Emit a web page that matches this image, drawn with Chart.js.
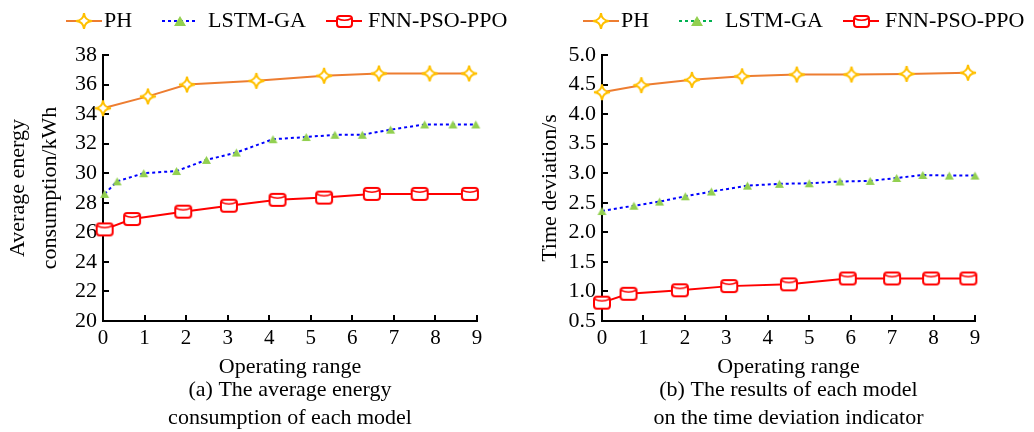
<!DOCTYPE html>
<html>
<head>
<meta charset="utf-8">
<script src="https://cdn.jsdelivr.net/npm/chart.js@4.4.1/dist/chart.umd.min.js"></script>
<style>
  html, body { margin: 0; padding: 0; background: #fff; }
  #wrap { position: relative; width: 1034px; height: 432px; overflow: hidden; }
  .box { position: absolute; top: 0; width: 517px; height: 432px; }
</style>
</head>
<body>
<div id="wrap">
  <div class="box" style="left:0"><canvas id="cA" width="517" height="432"></canvas></div>
  <div class="box" style="left:517px"><canvas id="cB" width="517" height="432"></canvas></div>
</div>
<script>
// ---------- data ----------
const seriesNames = ['PH', 'LSTM-GA', 'FNN-PSO-PPO'];

// (a) average energy consumption (kWh) vs operating range
const phX_a   = [0, 1.08, 2.02, 3.69, 5.32, 6.64, 7.86, 8.81];
const phY_a   = [34.4, 35.2, 36.0, 36.25, 36.6, 36.75, 36.75, 36.75];
const lstmX_a = [0.04, 0.34, 0.98, 1.77, 2.49, 3.21, 4.09, 4.89, 5.58, 6.24, 6.92, 7.74, 8.42, 8.97];
const lstmY_a = [28.6, 29.45, 30.0, 30.15, 30.9, 31.4, 32.3, 32.45, 32.6, 32.6, 32.95, 33.3, 33.3, 33.3];
const fnnX_a  = [0.04, 0.70, 1.93, 3.03, 4.20, 5.32, 6.47, 7.62, 8.83];
const fnnY_a  = [26.2, 26.9, 27.4, 27.8, 28.2, 28.35, 28.6, 28.6, 28.6];

// (b) time deviation (s) vs operating range
const phX_b   = [0, 0.95, 2.17, 3.38, 4.70, 6.02, 7.35, 8.83];
const phY_b   = [4.37, 4.49, 4.58, 4.64, 4.67, 4.67, 4.68, 4.70];
const lstmX_b = [0, 0.77, 1.39, 2.01, 2.64, 3.51, 4.28, 5.0, 5.74, 6.47, 7.11, 7.74, 8.38, 9.0];
const lstmY_b = [2.36, 2.45, 2.52, 2.61, 2.69, 2.79, 2.82, 2.83, 2.86, 2.87, 2.92, 2.97, 2.96, 2.96];
const fnnX_b  = [0, 0.64, 1.88, 3.07, 4.51, 5.93, 7.0, 7.94, 8.84];
const fnnY_b  = [0.81, 0.96, 1.02, 1.09, 1.12, 1.22, 1.22, 1.22, 1.22];

// axes / text
const xTitle = 'Operating range';
const yTitle_a = ['Average energy', 'consumption/kWh'];
const yTitle_b = 'Time deviation/s';
const caption_a = ['(a) The average energy', 'consumption of each model'];
const caption_b = ['(b) The results of each model', 'on the time deviation indicator'];
const xRange = [0, 9];
const yRange_a = [20, 38], yStep_a = 2;
const yRange_b = [0.5, 5.0], yStep_b = 0.5;

// ---------- styling helpers ----------
const FONT = '"Liberation Serif", "Times New Roman", serif';
Chart.defaults.font.family = FONT;
Chart.defaults.font.size = 22;
Chart.defaults.color = '#000';

function mkCanvas(w, h) { const c = document.createElement('canvas'); c.width = w; c.height = h; return c; }

function makeStar(r, stroke, lw) {
  const s = Math.ceil(2 * r + lw * 2 + 2);
  const c = mkCanvas(s, s), g = c.getContext('2d');
  const cx = s / 2, cy = s / 2, k = 0.08 * r;
  g.beginPath();
  g.moveTo(cx, cy - r);
  g.quadraticCurveTo(cx + k, cy - k, cx + r, cy);
  g.quadraticCurveTo(cx + k, cy + k, cx, cy + r);
  g.quadraticCurveTo(cx - k, cy + k, cx - r, cy);
  g.quadraticCurveTo(cx - k, cy - k, cx, cy - r);
  g.closePath();
  g.fillStyle = '#fff'; g.fill();
  g.lineWidth = lw; g.strokeStyle = stroke; g.lineJoin = 'miter'; g.stroke();
  return c;
}
function makeCyl(w, h, stroke, lw) {
  const c = mkCanvas(w + 4, h + 4), g = c.getContext('2d');
  const x = 2, y = 2, r = 3;
  g.beginPath();
  g.moveTo(x + r, y); g.lineTo(x + w - r, y); g.quadraticCurveTo(x + w, y, x + w, y + r);
  g.lineTo(x + w, y + h - r); g.quadraticCurveTo(x + w, y + h, x + w - r, y + h);
  g.lineTo(x + r, y + h); g.quadraticCurveTo(x, y + h, x, y + h - r);
  g.lineTo(x, y + r); g.quadraticCurveTo(x, y, x + r, y); g.closePath();
  g.fillStyle = '#fff'; g.fill();
  g.lineWidth = lw; g.strokeStyle = stroke; g.stroke();
  g.beginPath();
  g.moveTo(x + 0.5, y + 2.5); g.quadraticCurveTo(x + w / 2, y + 6, x + w - 0.5, y + 2.5);
  g.lineWidth = 1.5; g.stroke();
  return c;
}
function makeTri(w, h, fill) {
  const c = mkCanvas(w + 2, h + 2), g = c.getContext('2d');
  g.beginPath(); g.moveTo(1 + w / 2, 1); g.lineTo(1 + w, 1 + h); g.lineTo(1, 1 + h); g.closePath();
  g.fillStyle = fill; g.fill();
  return c;
}

const C_PH_LINE = '#ED7D31', C_PH_MARK = '#FFC000';
const C_LSTM_LINE = '#0000FF', C_LSTM_MARK = '#92D050';
const C_FNN = '#FF0000';

const starPt = makeStar(8, C_PH_MARK, 2);
const triPt = makeTri(9, 8, C_LSTM_MARK);
const triLeg = makeTri(12, 10, C_LSTM_MARK);
const cylPt = makeCyl(16, 12, C_FNN, 2);
const cylLeg = makeCyl(15, 11, C_FNN, 2);

const zip = (xs, ys) => xs.map((x, i) => ({ x, y: ys[i] }));

// ---------- plugins ----------
const inwardTicks = {
  id: 'inwardTicks',
  beforeDatasetsDraw(chart) {
    const { ctx, chartArea: a, scales: { x, y } } = chart;
    ctx.save();
    ctx.strokeStyle = '#000'; ctx.lineWidth = 2;
    ctx.beginPath();
    x.ticks.forEach(t => { const p = Math.round(x.getPixelForValue(t.value)); ctx.moveTo(p, a.bottom); ctx.lineTo(p, a.bottom - 6); });
    y.ticks.forEach(t => { const p = Math.round(y.getPixelForValue(t.value)); ctx.moveTo(a.left, p); ctx.lineTo(a.left + 6, p); });
    ctx.stroke();
    ctx.restore();
  }
};
const lineLegend = {
  id: 'lineLegend',
  afterDraw(chart, args, opts) {
    const ctx = chart.ctx;
    ctx.save();
    opts.items.forEach((it, i) => {
      const ds = chart.data.datasets[i];
      ctx.strokeStyle = it.color; ctx.lineWidth = 2; ctx.setLineDash(it.dash || []);
      ctx.beginPath(); ctx.moveTo(it.x0, opts.y); ctx.lineTo(it.x1, opts.y); ctx.stroke();
      ctx.setLineDash([]);
      const m = it.marker;
      ctx.drawImage(m, Math.round((it.x0 + it.x1) / 2 - m.width / 2), Math.round(opts.y - m.height / 2));
      ctx.fillStyle = '#000'; ctx.font = '22px ' + FONT; ctx.textBaseline = 'middle'; ctx.textAlign = 'left';
      ctx.fillText(ds.label, it.tx, opts.y);
    });
    ctx.restore();
  }
};

function buildChart(id, d) {
  return new Chart(document.getElementById(id), {
    type: 'line',
    data: {
      datasets: [
        { label: seriesNames[0], data: zip(d.phX, d.phY), borderColor: C_PH_LINE, borderWidth: 2,
          pointStyle: starPt, pointRadius: 9, clip: false, tension: 0 },
        { label: seriesNames[1], data: zip(d.lstmX, d.lstmY), borderColor: C_LSTM_LINE, borderWidth: 2, borderDash: [3, 3],
          pointStyle: triPt, pointRadius: 5, clip: false, tension: 0 },
        { label: seriesNames[2], data: zip(d.fnnX, d.fnnY), borderColor: C_FNN, borderWidth: 2,
          pointStyle: cylPt, pointRadius: 8, clip: false, tension: 0 }
      ]
    },
    options: {
      responsive: false, animation: false, events: [],
      layout: { padding: { left: 0, right: d.padRight, top: 55, bottom: 0 } },
      scales: {
        x: {
          type: 'linear', min: xRange[0], max: xRange[1],
          grid: { display: false, drawTicks: false },
          border: { display: true, color: '#000', width: 2 },
          ticks: { stepSize: 1, padding: 5, font: { size: 21 }, color: '#000' },
          title: { display: true, text: xTitle, font: { size: 22, lineHeight: '18px' }, padding: { top: 0, bottom: 0 }, color: '#000' },
          afterFit(s) { s.height = 55; }
        },
        y: {
          type: 'linear', min: d.yRange[0], max: d.yRange[1],
          grid: { display: false, drawTicks: false },
          border: { display: true, color: '#000', width: 2 },
          ticks: { stepSize: d.yStep, padding: 6, font: { size: 22 }, color: '#000', callback: d.yFmt },
          title: { display: true, text: d.yTitle, font: { size: 22, lineHeight: d.yTitleLH }, padding: { top: d.yTitlePad, bottom: 0 }, color: '#000' },
          afterFit(s) { s.width = d.yWidth; }
        }
      },
      plugins: {
        legend: { display: false },
        tooltip: { enabled: false },
        title: { display: true, position: 'bottom', fullSize: false, text: d.caption,
                 font: { size: 22, weight: 'normal', lineHeight: '28px' }, padding: { top: 0, bottom: 0 }, color: '#000' },
        lineLegend: {
          y: 21,
          items: [
            { x0: 66, x1: 102, tx: 104, color: C_PH_LINE, marker: starPt },
            { x0: 162, x1: 198, tx: 208, color: d.legLstmColor, dash: [3, 3], marker: triLeg },
            { x0: 326, x1: 362, tx: 368, color: C_FNN, marker: cylLeg }
          ]
        }
      }
    },
    plugins: [inwardTicks, lineLegend]
  });
}

buildChart('cA', {
  phX: phX_a, phY: phY_a, lstmX: lstmX_a, lstmY: lstmY_a, fnnX: fnnX_a, fnnY: fnnY_a,
  yRange: yRange_a, yStep: yStep_a, yFmt: v => String(v),
  yTitle: yTitle_a, yTitleLH: '32px', yTitlePad: 2, yWidth: 103, padRight: 40,
  caption: caption_a, legLstmColor: C_LSTM_LINE
});
buildChart('cB', {
  phX: phX_b, phY: phY_b, lstmX: lstmX_b, lstmY: lstmY_b, fnnX: fnnX_b, fnnY: fnnY_b,
  yRange: yRange_b, yStep: yStep_b, yFmt: v => Number(v).toFixed(1),
  yTitle: yTitle_b, yTitleLH: '24px', yTitlePad: 21, yWidth: 85, padRight: 59,
  caption: caption_b, legLstmColor: '#00B050'
});
</script>
</body>
</html>
